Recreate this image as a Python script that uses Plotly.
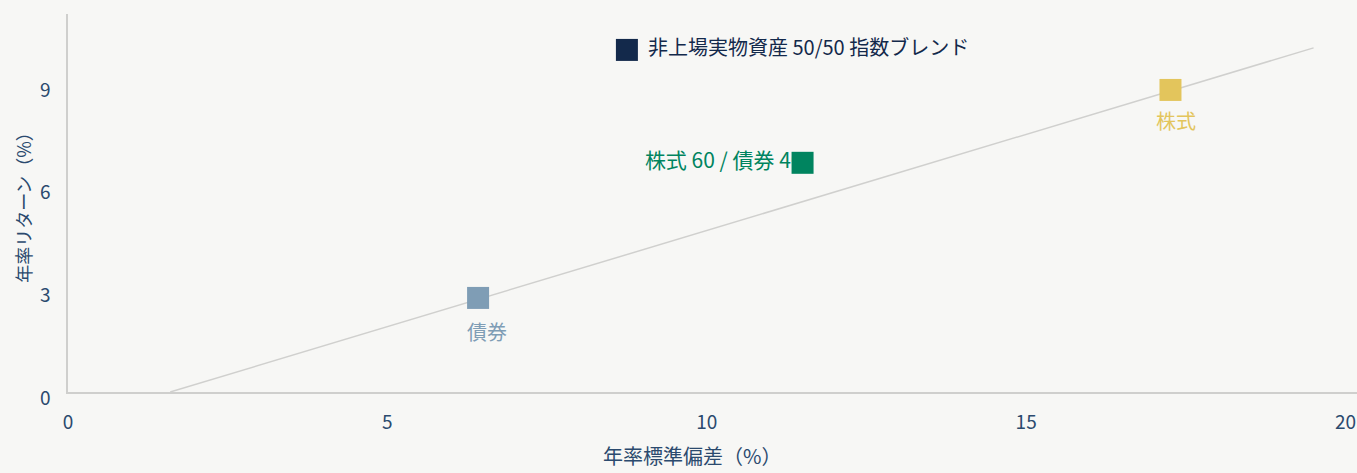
import plotly.graph_objects as go

# Data
names = ["非上場実物資産 50/50 指数ブレンド", "株式 60 / 債券 40", "株式", "債券"]
std_dev = [8.75, 11.5, 17.26, 6.42]
ret = [10.0, 6.7, 8.83, 2.75]
colors = ["#13294b", "#00845f", "#e3c55c", "#7f9db5"]

line_x = [1.6, 19.5]
line_y = [0.0, 10.06]

x_ticks = [0, 5, 10, 15, 20]
y_ticks = [0, 3, 6, 9]

FONT = "Noto Sans CJK JP, Noto Sans, sans-serif"
BG = "#f7f7f5"
TXT = "#2b4a6e"

fig = go.Figure()

# Market line
fig.add_trace(go.Scatter(x=line_x, y=line_y, mode="lines",
                         line=dict(color="#d0d0ce", width=1.5),
                         hoverinfo="skip", showlegend=False))

# Green label drawn beneath its marker
fig.add_trace(go.Scatter(x=[std_dev[1]], y=[ret[1]], mode="text",
                         text=[names[1]], textposition="middle left",
                         textfont=dict(family=FONT, size=21, color=colors[1]),
                         showlegend=False, hoverinfo="skip"))

# Markers
for i in range(len(names)):
    fig.add_trace(go.Scatter(x=[std_dev[i]], y=[ret[i]], mode="markers",
                             marker=dict(symbol="square", size=22, color=colors[i],
                                         line=dict(width=0)),
                             name=names[i], showlegend=False))

# Other labels
fig.add_annotation(x=std_dev[0], y=ret[0], text=names[0], showarrow=False,
                   xanchor="left", yanchor="middle", xshift=19, yshift=3,
                   font=dict(family=FONT, size=20, color=colors[0]))
fig.add_annotation(x=std_dev[2], y=ret[2], text=names[2], showarrow=False,
                   xanchor="center", yanchor="middle", xshift=6, yshift=-31,
                   font=dict(family=FONT, size=20, color=colors[2]))
fig.add_annotation(x=std_dev[3], y=ret[3], text=names[3], showarrow=False,
                   xanchor="center", yanchor="middle", xshift=9, yshift=-34,
                   font=dict(family=FONT, size=20, color=colors[3]))

# X axis title
fig.add_annotation(x=(692 - 68) / (1357 - 68), xref="paper", y=-0.168, yref="paper",
                   text="年率標準偏差（%）", showarrow=False, yanchor="middle",
                   borderpad=0,
                   font=dict(family=FONT, size=20, color=TXT))

fig.update_layout(
    width=1357, height=473,
    margin=dict(l=68, r=0, t=14, b=81),
    paper_bgcolor=BG, plot_bgcolor=BG,
    font=dict(family=FONT, size=18, color=TXT),
    xaxis=dict(range=[0, 20.18], tickvals=x_ticks, showgrid=False, zeroline=False,
               showline=True, linecolor="#cfcfcd", linewidth=1.5,
               ticks="outside", ticklen=12, tickcolor="rgba(0,0,0,0)",
               tickfont=dict(family=FONT, size=19, color=TXT)),
    yaxis=dict(range=[0, 11.05], tickvals=y_ticks, showgrid=False, zeroline=False,
               showline=True, linecolor="#cfcfcd", linewidth=1.5,
               ticks="outside", ticklen=12, tickcolor="rgba(0,0,0,0)",
               ticklabelshift=6,
               tickfont=dict(family=FONT, size=19, color=TXT),
               title=dict(text="年率リターン（%）", standoff=4,
                          font=dict(family=FONT, size=18, color=TXT))),
)

fig.write_html("out.html",
               config={"displayModeBar": False},
               post_script="document.body.style.margin='0';"
                           "document.body.style.background='#f7f7f5';"
                           "document.body.style.overflow='hidden';")
